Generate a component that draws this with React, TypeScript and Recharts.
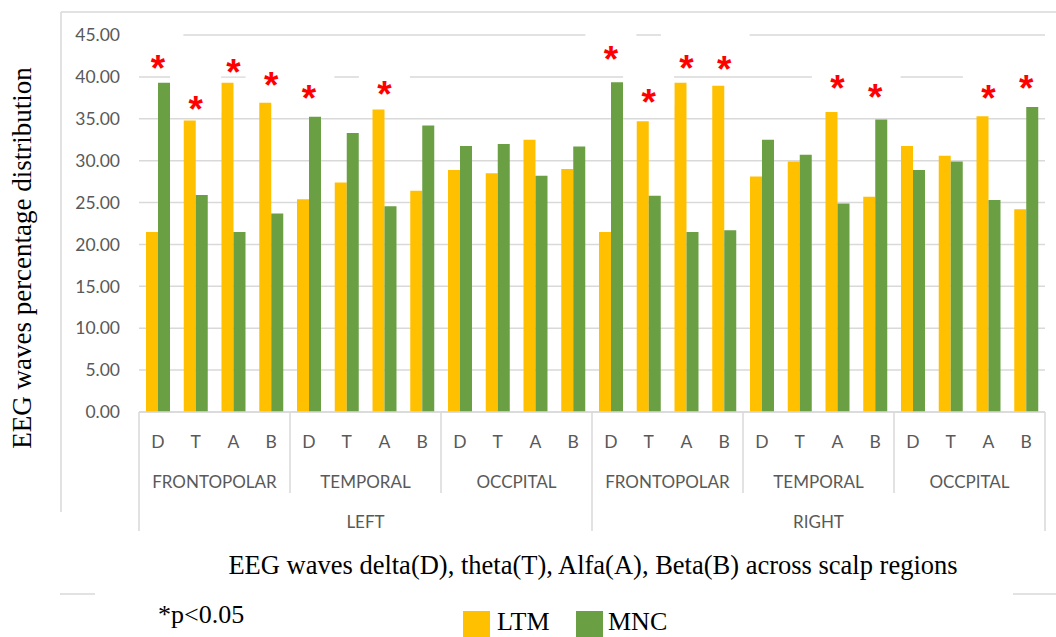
import React from 'react';
import { ComposedChart, Bar, Scatter, XAxis, YAxis, CartesianGrid } from 'recharts';

const waves = ['D', 'T', 'A', 'B'];
const regions = ['FRONTOPOLAR', 'TEMPORAL', 'OCCPITAL'];
const sides = ['LEFT', 'RIGHT'];

const ltmValues = [
  21.5, 34.8, 39.3, 36.9,
  25.4, 27.4, 36.1, 26.4,
  28.9, 28.5, 32.5, 29.0,
  21.5, 34.7, 39.3, 38.95,
  28.1, 29.9, 35.8, 25.7,
  31.75, 30.6, 35.3, 24.2,
];
const mncValues = [
  39.3, 25.9, 21.5, 23.7,
  35.25, 33.3, 24.55, 34.2,
  31.75, 32.0, 28.2, 31.7,
  39.35, 25.8, 21.5, 21.7,
  32.5, 30.7, 24.9, 34.9,
  28.9, 29.9, 25.3, 36.4,
];
// height (in axis units) at which each significance asterisk sits
const starLevels: (number | null)[] = [
  42.0, 37.1, 41.5, 40.0,
  38.4, null, 38.9, null,
  null, null, null, null,
  43.1, 38.0, 42.0, 41.9,
  null, null, 39.6, 38.55,
  null, null, 38.4, 39.6,
];
const yTicks = [0, 5, 10, 15, 20, 25, 30, 35, 40, 45];

const rows: any[] = [];
sides.forEach((side) =>
  regions.forEach((region) =>
    waves.forEach((wave) => {
      const i = rows.length;
      rows.push({
        key: `${side}-${region}-${wave}`,
        side,
        region,
        wave,
        ltm: ltmValues[i],
        mnc: mncValues[i],
        star: starLevels[i],
      });
    })
  )
);

const W = 1056;
const H = 637;
const PLOT_LEFT = 139;
const PLOT_RIGHT = 1045;
const PLOT_TOP = 35;
const PLOT_BOTTOM = 412;
const BAND = (PLOT_RIGHT - PLOT_LEFT) / rows.length;
const GRID = '#d9d9d9';
const LABEL = '#595959';
const SANS = 'Lato, "Open Sans", sans-serif';
const SERIF = '"Liberation Serif", "Times New Roman", serif';

const renderTick = (props: any) => {
  const { x, index } = props;
  const row = rows[index];
  if (!row) return <g />;
  const parts: any[] = [];
  parts.push(
    <text key="w" x={x} y={448} textAnchor="middle" fill={LABEL} fontSize={17.5} fontFamily={SANS}>
      {row.wave}
    </text>
  );
  if (index % 4 === 0) {
    const left = x - BAND / 2;
    parts.push(
      <line key="s" x1={left} x2={left} y1={PLOT_BOTTOM} y2={index % 12 === 0 ? 531 : 493} stroke={GRID} strokeWidth={1.5} />
    );
    parts.push(
      <text key="r" x={left + 2 * BAND} y={488} textAnchor="middle" fill={LABEL} fontSize={17} fontFamily={SANS}>
        {row.region}
      </text>
    );
  }
  if (index % 12 === 0) {
    parts.push(
      <text key="side" x={x - BAND / 2 + 6 * BAND} y={528} textAnchor="middle" fill={LABEL} fontSize={17} fontFamily={SANS}>
        {row.side}
      </text>
    );
  }
  if (index === rows.length - 1) {
    const right = x + BAND / 2;
    parts.push(<line key="e" x1={right} x2={right} y1={PLOT_BOTTOM} y2={531} stroke={GRID} strokeWidth={1.5} />);
  }
  return <g>{parts}</g>;
};

const renderStar = (props: any) => {
  const { cx, cy, payload } = props;
  if (!payload || payload.star == null) return <g />;
  return (
    <g>
      <rect x={cx - 25.5} y={cy - 27} width={51} height={39} fill="#ffffff" />
      <text
        x={cx}
        y={cy + 21}
        textAnchor="middle"
        fill="#ff0000"
        fontSize={37}
        fontWeight="bold"
        fontFamily='"Liberation Sans", Arial, sans-serif'
      >
        *
      </text>
    </g>
  );
};

export default function App() {
  return (
    <div style={{ position: 'absolute', left: 0, top: 0, width: W, height: H, background: '#ffffff' }}>
      <ComposedChart
        width={W}
        height={H}
        data={rows}
        margin={{ top: PLOT_TOP, right: W - PLOT_RIGHT, bottom: H - PLOT_BOTTOM - 130, left: PLOT_LEFT - 80 }}
        barGap={0}
        barSize={12}
      >
        <CartesianGrid vertical={false} stroke={GRID} strokeWidth={1.5} />
        <XAxis
          dataKey="key"
          interval={0}
          height={130}
          tick={renderTick}
          tickLine={false}
          axisLine={{ stroke: GRID, strokeWidth: 1.5 }}
        />
        <YAxis
          width={80}
          domain={[0, 45]}
          ticks={yTicks}
          tickFormatter={(v: number) => v.toFixed(2)}
          axisLine={false}
          tickLine={false}
          tickSize={0}
          tickMargin={19}
          tick={{ fill: LABEL, fontSize: 17.5, fontFamily: SANS }}
        />
        <Bar dataKey="ltm" fill="#FFC000" isAnimationActive={false} />
        <Bar dataKey="mnc" fill="#6A9F43" isAnimationActive={false} />
        <Scatter dataKey="star" shape={renderStar} isAnimationActive={false} />
      </ComposedChart>
      <svg
        width={W}
        height={H}
        style={{ position: 'absolute', left: 0, top: 0, pointerEvents: 'none' }}
      >
        <line x1={61} x2={W} y1={12} y2={12} stroke={GRID} strokeWidth={1.5} />
        <line x1={61} x2={61} y1={12} y2={512} stroke={GRID} strokeWidth={1.5} />
        <line x1={60} x2={95} y1={594} y2={594} stroke={GRID} strokeWidth={1.5} />
        <line x1={1013} x2={W} y1={594} y2={594} stroke={GRID} strokeWidth={1.5} />
        <text
          x={31}
          y={258}
          transform="rotate(-90, 31, 258)"
          textAnchor="middle"
          fontFamily={SERIF}
          fontSize={27}
          fill="#000"
        >
          EEG waves percentage distribution
        </text>
        <text x={593} y={574} textAnchor="middle" fontFamily={SERIF} fontSize={26.5} fill="#000">
          EEG waves delta(D), theta(T), Alfa(A), Beta(B) across scalp regions
        </text>
        <text x={158} y={623} fontFamily={SERIF} fontSize={26} fill="#000">
          *p&lt;0.05
        </text>
        <rect x={463} y={611} width={27} height={26} fill="#FFC000" />
        <text x={497} y={630} fontFamily={SERIF} fontSize={26} fill="#000">
          LTM
        </text>
        <rect x={576} y={611} width={27} height={26} fill="#6A9F43" />
        <text x={608} y={630} fontFamily={SERIF} fontSize={26} fill="#000">
          MNC
        </text>
      </svg>
    </div>
  );
}
